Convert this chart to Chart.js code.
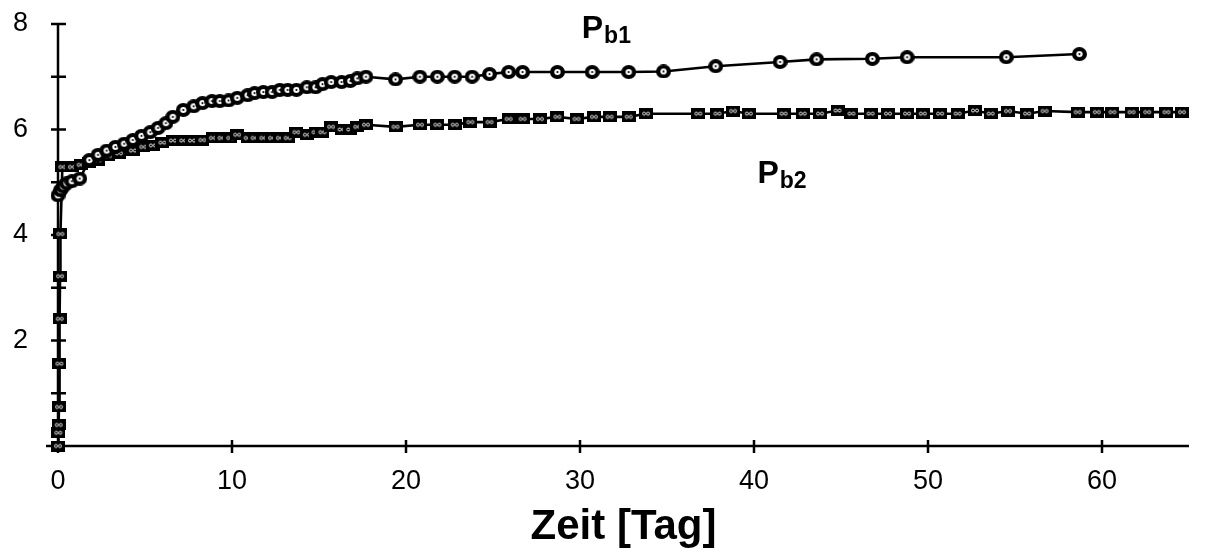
<!DOCTYPE html>
<html>
<head>
<meta charset="utf-8">
<script src="https://cdn.jsdelivr.net/npm/chart.js@4"></script>
<style>
html, body { margin: 0; padding: 0; background: #fff; }
#wrap { width: 1208px; height: 556px; }
</style>
</head>
<body>
<div id="wrap"><canvas id="myChart"></canvas></div>
<script>
// Werte
const pb1Tage = [0, 0.15, 0.3, 0.5, 0.8, 1.25, 1.8, 2.3, 2.8, 3.3, 3.8, 4.3, 4.8, 5.3, 5.75, 6.2, 6.6, 7.2, 7.8, 8.3,
  8.85, 9.3, 9.8, 10.3, 10.9, 11.3, 11.8, 12.3, 12.75, 13.2, 13.7, 14.3, 14.8, 15.2, 15.7, 16.3, 16.8, 17.2, 17.7,
  19.4, 20.8, 21.8, 22.8, 23.8, 24.8, 25.9, 26.7, 28.7, 30.7, 32.8, 34.8, 37.8, 41.5, 43.6, 46.8, 48.8, 54.5, 58.7];
const pb1Werte = [4.75, 4.85, 4.92, 4.98, 5.02, 5.07, 5.42, 5.52, 5.6, 5.67, 5.73, 5.8, 5.88, 5.95, 6.03, 6.12, 6.24, 6.37, 6.44, 6.5,
  6.54, 6.54, 6.55, 6.6, 6.65, 6.69, 6.71, 6.71, 6.75, 6.75, 6.75, 6.8, 6.8, 6.86, 6.9, 6.9, 6.92, 6.97, 7.0,
  6.95, 7.0, 7.0, 7.0, 7.0, 7.05, 7.09, 7.09, 7.09, 7.09, 7.09, 7.1, 7.2, 7.28, 7.33, 7.34, 7.37, 7.37, 7.43];

const pb2Tage = [0, 0.02, 0.04, 0.06, 0.08, 0.1, 0.12, 0.14, 0.25, 0.8, 1.3, 1.8, 2.3, 2.9, 3.5, 4.3, 4.9, 5.45, 6.0, 6.6,
  7.2, 7.7, 8.3, 8.9, 9.4, 9.9, 10.3, 10.9, 11.3, 11.8, 12.3, 12.75, 13.2, 13.7, 14.3, 14.8, 15.2, 15.7, 16.3, 16.8,
  17.2, 17.7, 19.4, 20.8, 21.8, 22.8, 23.7, 24.8, 25.9, 26.7, 27.7, 28.7, 29.8, 30.8, 31.7, 32.8, 33.8, 36.8, 37.9,
  38.8, 39.7, 41.7, 42.8, 43.8, 44.8, 45.6, 46.7, 47.7, 48.8, 49.7, 50.7, 51.7, 52.7, 53.6, 54.6, 55.7, 56.7, 58.6,
  59.7, 60.6, 61.7, 62.6, 63.7, 64.6];
const pb2Werte = [0, 0.25, 0.4, 0.74, 1.56, 2.41, 3.22, 4.02, 5.29, 5.29, 5.33, 5.38, 5.42, 5.5, 5.55, 5.6, 5.67, 5.7, 5.75, 5.79,
  5.79, 5.79, 5.8, 5.84, 5.84, 5.84, 5.9, 5.84, 5.84, 5.84, 5.84, 5.84, 5.84, 5.95, 5.9, 5.95, 5.95, 6.05, 6.0, 6.0,
  6.05, 6.09, 6.05, 6.09, 6.09, 6.09, 6.14, 6.14, 6.2, 6.2, 6.2, 6.24, 6.2, 6.24, 6.24, 6.24, 6.3, 6.3, 6.3,
  6.35, 6.3, 6.3, 6.3, 6.3, 6.36, 6.3, 6.3, 6.3, 6.3, 6.3, 6.3, 6.3, 6.36, 6.3, 6.35, 6.3, 6.35, 6.33,
  6.33, 6.33, 6.33, 6.33, 6.33, 6.33];

const yLabels = [2, 4, 6, 8];

const schrift = "'Liberation Sans', Arial, sans-serif";

// Markierungen wie im Original: schwarzer Kreis / schwarzes Kästchen mit weißem Muster
function kreis() {
  const c = document.createElement('canvas');
  c.width = 15; c.height = 14;
  const g = c.getContext('2d');
  g.fillStyle = '#000';
  g.beginPath(); g.ellipse(7.5, 7, 7.5, 7, 0, 0, Math.PI * 2); g.fill();
  g.fillStyle = '#fff';
  g.beginPath(); g.ellipse(7.5, 7, 3.2, 3.0, 0, 0, Math.PI * 2); g.fill();
  g.fillStyle = '#000';
  g.beginPath(); g.arc(7.5, 7, 1.1, 0, Math.PI * 2); g.fill();
  return c;
}

function kaestchen() {
  const c = document.createElement('canvas');
  c.width = 14; c.height = 11;
  const g = c.getContext('2d');
  g.fillStyle = '#000';
  g.fillRect(0, 0, 14, 11);
  g.strokeStyle = '#fff';
  g.lineWidth = 0.9;
  g.beginPath(); g.arc(5, 5.5, 1.5, 0, Math.PI * 2); g.stroke();
  g.beginPath(); g.arc(9, 5.5, 1.5, 0, Math.PI * 2); g.stroke();
  return c;
}

const punkte = (xs, ys) => xs.map((t, i) => ({ x: t, y: ys[i] }));

const achsen = {
  id: 'achsen',
  beforeDatasetsDraw(chart) {
    const { ctx, chartArea: a, scales: { x, y } } = chart;
    ctx.save();
    ctx.strokeStyle = '#000';
    ctx.lineWidth = 2.5;
    ctx.beginPath();
    ctx.moveTo(a.left, a.top);
    ctx.lineTo(a.left, a.bottom + 7);
    ctx.moveTo(a.left - 12, a.bottom);
    ctx.lineTo(a.right, a.bottom);
    y.ticks.forEach(t => {
      const py = y.getPixelForValue(t.value);
      ctx.moveTo(a.left - 7, py);
      ctx.lineTo(a.left + 8, py);
    });
    x.ticks.forEach(t => {
      const px = x.getPixelForValue(t.value);
      ctx.moveTo(px, a.bottom - 6);
      ctx.lineTo(px, a.bottom + 7);
    });
    ctx.stroke();
    ctx.restore();
  },
  afterDatasetsDraw(chart) {
    const { ctx, scales: { x, y } } = chart;
    const schreib = (t, v, sub) => {
      const px = x.getPixelForValue(t);
      const py = y.getPixelForValue(v);
      ctx.font = 'bold 32px ' + schrift;
      ctx.fillText('P', px, py);
      const w = ctx.measureText('P').width;
      ctx.font = 'bold 23px ' + schrift;
      ctx.fillText(sub, px + w + 1, py + 5);
    };
    ctx.save();
    ctx.fillStyle = '#000';
    ctx.textBaseline = 'alphabetic';
    schreib(30.1, 7.73, 'b1');
    schreib(40.2, 4.99, 'b2');
    ctx.restore();
  }
};

const ctx = document.getElementById('myChart').getContext('2d');

const myChart = new Chart(ctx, {
  type: 'scatter',
  data: {
    datasets: [
      {
        label: 'Pb1',
        data: punkte(pb1Tage, pb1Werte),
        showLine: true,
        borderColor: '#000',
        borderWidth: 2.6,
        pointStyle: kreis(),
        clip: false,
      },
      {
        label: 'Pb2',
        data: punkte(pb2Tage, pb2Werte),
        showLine: true,
        borderColor: '#000',
        borderWidth: 2.6,
        pointStyle: kaestchen(),
        clip: false,
      },
    ],
  },
  options: {
    responsive: true,
    maintainAspectRatio: false,
    animation: false,
    layout: { padding: { top: 24, right: 19, left: 13, bottom: 0 } },
    plugins: { legend: { display: false }, tooltip: { enabled: false } },
    scales: {
      x: {
        type: 'linear',
        min: 0,
        max: 65,
        grid: { display: false, drawTicks: false },
        border: { display: false },
        ticks: {
          stepSize: 10,
          includeBounds: false,
          color: '#000',
          padding: 19,
          font: { family: schrift, size: 27 },
        },
        title: {
          display: true,
          text: 'Zeit [Tag]',
          color: '#000',
          font: { family: schrift, size: 42, weight: 'bold' },
          padding: { top: 0, bottom: 3 },
        },
        afterFit: s => { s.height = 110; },
      },
      y: {
        min: 0,
        max: 8,
        grid: { display: false, drawTicks: false },
        border: { display: false },
        ticks: {
          stepSize: 1,
          color: '#000',
          padding: 0,
          crossAlign: 'far',
          font: { family: schrift, size: 27 },
          callback: v => (yLabels.includes(v) ? v : ''),
        },
        afterFit: s => { s.width = 45; },
      },
    },
  },
  plugins: [achsen],
});
</script>
</body>
</html>
